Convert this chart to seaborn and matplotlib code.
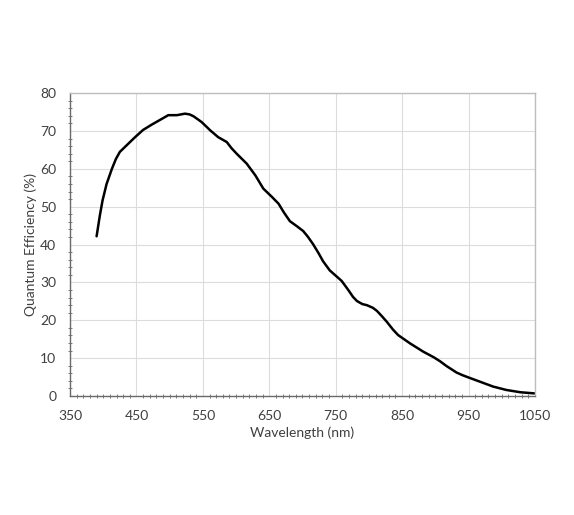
import numpy as np
import pandas as pd
import matplotlib
matplotlib.use("Agg")
import matplotlib.pyplot as plt
from matplotlib.ticker import MultipleLocator
import seaborn as sns

# Valores (nm, %)
wavelength = [390, 395, 399, 405, 413, 419, 425, 435, 448, 460, 473, 486, 498, 505, 511,
              517, 523, 530, 536, 548, 561, 573, 586, 593, 601, 616, 629, 641, 654, 664,
              672, 681, 692, 701, 708, 716, 724, 731, 741, 750, 759, 769, 776, 782, 790,
              797, 806, 812, 820, 827, 836, 844, 853, 862, 872, 882, 897, 907, 917, 925,
              932, 941, 950, 967, 987, 1007, 1028, 1049]
qe = [42.2, 47.8, 51.7, 56.0, 60.0, 62.6, 64.5, 66.2, 68.4, 70.3, 71.7, 73.0, 74.2, 74.2, 74.2,
      74.4, 74.6, 74.4, 73.9, 72.4, 70.2, 68.4, 67.1, 65.5, 64.0, 61.4, 58.3, 54.8, 52.6, 50.8,
      48.5, 46.2, 44.8, 43.6, 42.1, 40.1, 37.8, 35.6, 33.2, 31.8, 30.4, 28.0, 26.2, 25.1, 24.3,
      24.0, 23.3, 22.5, 21.0, 19.6, 17.6, 16.1, 15.0, 13.9, 12.8, 11.7, 10.3, 9.2, 7.9, 7.0,
      6.2, 5.5, 4.9, 3.8, 2.5, 1.6, 1.0, 0.7]

df = pd.DataFrame({'Wavelength': wavelength, 'QE': qe})

sns.set_style("white")
plt.rcParams['font.family'] = ['Lato', 'DejaVu Sans']

fig = plt.figure(figsize=(5.74, 5.15), dpi=100)
ax = fig.add_axes([0.122, 0.231, 0.81, 0.588])

sns.lineplot(data=df, x='Wavelength', y='QE', color='black', linewidth=1.8, ax=ax)

ax.set_xlim(350, 1050)
ax.set_ylim(0, 80)
ax.set_xticks(list(range(350, 1051, 100)))
ax.xaxis.set_minor_locator(MultipleLocator(10))
ax.yaxis.set_major_locator(MultipleLocator(10))
ax.yaxis.set_minor_locator(MultipleLocator(2))

ax.grid(True, which='major', color='#dcdcdc', linewidth=0.8)
ax.set_axisbelow(True)

for s in ['left', 'bottom']:
    ax.spines[s].set_color('#6a6a6a')
    ax.spines[s].set_linewidth(1.0)
for s in ['top', 'right']:
    ax.spines[s].set_color('#bdbdbd')
    ax.spines[s].set_linewidth(1.0)

ax.tick_params(which='major', direction='out', length=4, width=0.8, color='#6a6a6a',
               labelsize=10, labelcolor='#404040', pad=6)
ax.tick_params(which='minor', direction='inout', length=3, width=0.6, color='#6a6a6a')
ax.tick_params(axis='x', which='minor', bottom=True)
ax.tick_params(axis='y', which='minor', left=True)

ax.set_xlabel('Wavelength (nm)', fontsize=10, color='#404040', labelpad=3)
ax.set_ylabel('Quantum Efficiency (%)', fontsize=10, color='#404040', labelpad=2)

fig.savefig('out.png', dpi=100, facecolor='white')
